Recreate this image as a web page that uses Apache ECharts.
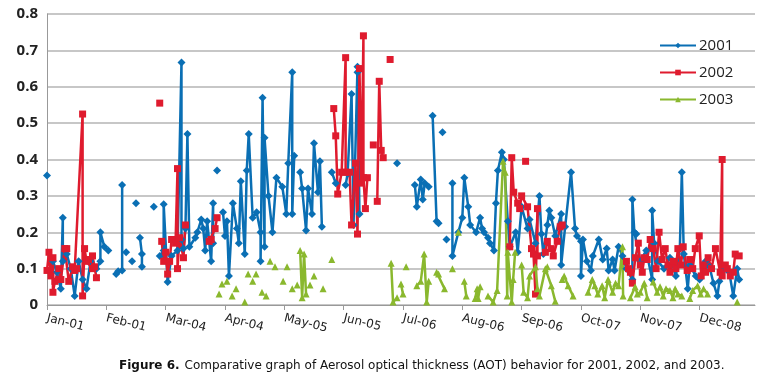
<!DOCTYPE html>
<html>
<head>
<meta charset="UTF-8">
<title>AOT 2001-2003</title>
<script src="https://cdn.jsdelivr.net/npm/echarts@6/dist/echarts.min.js"></script>
<style>
  html, body { margin: 0; padding: 0; background: #fff; }
  #main { width: 759px; height: 374px; }
</style>
</head>
<body>
<div id="main"></div>
<script>
// x = day index along the axis (30 days between month labels), null = gap in the line
var monthLabels = ['Jan-01', 'Feb-01', 'Mar-04', 'Apr-04', 'May-05', 'Jun-05', 'Jul-06', 'Aug-06', 'Sep-06', 'Oct-07', 'Nov-07', 'Dec-08'];
var seriesNames = ['2001', '2002', '2003'];

var pts2001 = [
  [0, .356], null,
  [3, .12], [5, .09], [7, .045], [8, .24], [8, .12], [10, .14], [12, .1], [14, .025], [16, .12], [18, .07], [20, .045], [22, .12], [25, .1], [27, .12], [27, .2], [29, .16], [31, .15], null,
  [35, .085], [36, .093], [38, .095], [38, .33], null,
  [40, .145], null, [43, .12], null, [45, .28], null,
  [47, .185], [48, .14], [48, .105], null,
  [54, .27], null,
  [57, .135], [59, .15], [59, .277], [61, .063], [63, .135], [66, .15], [68, .667], [68, .18], [69, .155], [70, .21], [71, .47], [72, .16], [75, .185], [76, .2], [78, .235], [79, .21], [80, .15], [81, .23], [83, .12], [84, .28], [84, .17], null,
  [86, .37], null,
  [89, .255], [90, .19], [91, .23], [92, .08], [94, .28], [96, .21], [97, .17], [98, .34], [100, .14], [101, .37], [102, .47], [104, .24], [106, .255], [108, .2], [108, .12], [109, .57], [110, .16], [110, .46], [112, .3], [114, .2], [116, .35], [119, .325], [121, .25], [122, .39], [124, .64], [124, .25], [125, .41], null,
  [128, .365], [129, .32], [131, .205], [132, .32], [134, .25], [135, .445], [137, .31], [138, .395], [139, .215], null,
  [144, .365], [146, .335], null,
  [151, .33], [152, .36], [154, .58], [155, .22], [157, .655], [157, .64], [158, .25], null,
  [177, .39], null,
  [186, .33], [187, .27], [189, .345], [190, .29], [191, .335], [193, .325], null,
  [195, .52], [197, .23], [198, .225], null,
  [200, .475], null,
  [202, .18], null,
  [205, .335], [205, .135], [208, .2], [210, .24], [211, .35], [213, .27], [214, .22], [217, .2], [219, .24], [220, .21], [221, .2], [223, .185], [224, .17], [226, .15], [227, .28], [228, .37], [230, .42], [231, .4], [233, .23], [234, .16], [237, .2], [238, .145], [240, .27], [243, .21], [244, .235], [247, .17], [249, .3], [250, .195], [251, .14], [253, .22], [254, .26], [255, .24], [257, .19], [260, .25], [260, .11], [262, .215], [265, .365], [267, .21], [268, .19], [270, .175], [270, .08], [271, .18], [273, .12], [275, .095], [276, .135], [279, .18], [281, .125], [283, .155], [284, .095], [286, .125], [287, .095], [289, .16], [291, .135], [293, .1], [296, .07], [296, .29], [297, .2], [298, .195], [300, .12], [303, .15], [306, .07], [306, .26], [307, .17], [309, .12], [312, .1], [315, .13], [318, .08], [320, .155], [321, .365], [322, .14], [324, .045], [325, .11], [328, .08], [330, .07], [333, .12], [335, .105], [337, .06], [339, .025], [340, .065], [343, .1], [345, .09], [347, .025], [349, .1], [350, .07]
];

var pts2002 = [
  [0, .095], [1, .145], [2, .08], [3, .13], [3, .035], [4, .065], [6, .1], [7, .07], [9, .155], [10, .155], [11, .065], [13, .105], [14, .095], [15, .1], [18, .525], [18, .025], [19, .155], [20, .12], [21, .125], [23, .1], [23, .135], [24, .105], [25, .075], null,
  [57, .555], null,
  [58, .175], [59, .12], [60, .145], [61, .085], [62, .12], [63, .18], [65, .17], [66, .375], [66, .1], [67, .185], [69, .13], [70, .22], null,
  [82, .175], [83, .18], [85, .21], [86, .24], null,
  [145, .54], [146, .465], [147, .305], [149, .365], [151, .68], [151, .365], [153, .365], [154, .22], [156, .39], [157, .195], [158, .65], [159, .335], [160, .74], [160, .35], [161, .265], [162, .35], null,
  [165, .44], null,
  [167, .285], [168, .615], [169, .425], [170, .405], null,
  [173.5, .675], null,
  [234, .16], [235, .405], [236, .31], [238, .28], [239, .265], [240, .3], [243, .27], [245, .155], [246, .14], [247, .03], [248, .265], [248, .135], [252, .145], [253, .175], [255, .155], [256, .135], [258, .175], [259.5, .215], [260.5, .22], null,
  [242, .395], null,
  [293, .12], [294, .1], [295, .09], [296, .06], [297.5, .13], [299, .17], [300, .11], [301, .09], [302, .13], [303.5, .125], [305, .18], [306.5, .155], [308, .1], [309.5, .2], [311, .125], [312.6, .155], [314, .11], [315, .09], [316.6, .12], [318, .1], [319, .155], [320.5, .11], [321.7, .16], [323.7, .095], [325, .125], [326.5, .1], [327.8, .155], [329.8, .19], [330.8, .08], [331.8, .11], [333, .09], [334.3, .13], [336, .1], [338, .155], [340.4, .09], [341.4, .4], [341.4, .08], [343, .11], [344, .1], [345.5, .08], [347, .09], [348, .14], [350, .135]
];

var pts2003 = [
  [87, .03], null, [88.5, .058], null, [91, .065], null, [93.6, .025], null, [95.6, .045], null, [100, .008], null,
  [101.7, .085], null, [104, .065], null, [105.7, .085], null, [108.7, .035], null, [110.8, .025], null,
  [112.8, .12], null, [115.3, .105], null, [119.4, .065], null, [121.4, .105], null, [124, .045], null, [126.5, .055], null,
  [128, .15], [129, .02], [130, .14], [131, .03], null,
  [133, .055], null, [135, .08], null, [139.6, .045], null, [144, .125], null,
  [174, .115], [175, .008], [177, .02], null,
  [179, .058], [180, .03], null,
  [181.6, .105], null,
  [187, .053], [189, .065], [190.7, .14], [192, .008], [193, .065], null,
  [197, .09], [198, .085], [201, .045], null,
  [205, .1], null,
  [208, .2], null,
  [211, .065], [212, .025], null,
  [216.5, .018], [217.5, .045], [218, .018], [219, .05], null,
  [223, .025], [225.6, .008], [227.6, .04], [230.6, .395], [231.7, .365], [232.7, .025], [233, .145], [235, .008], [235.7, .07], [236.7, .145], null,
  [240, .11], [241, .035], [243, .02], [244, .08], [247, .105], [248, .045], [249, .025], [252, .1], [253, .105], [255, .053], [257, .01], null,
  [260.5, .07], [261.5, .08], [263.5, .053], [266, .025], null,
  [273.6, .035], [275.7, .07], [277, .053], [278.5, .03], [280.7, .053], [282, .02], [283.7, .07], [286, .035], [287.5, .06], [289, .053], [291, .16], [291.3, .025], null,
  [295, .02], [297.4, .05], [298.5, .03], [300, .035], [302, .06], [303.5, .02], null,
  [306.5, .063], [308.5, .035], [310, .05], [311.6, .025], [313, .045], [315, .04], [316.5, .02], [317.6, .045], [319, .03], [321, .025], null,
  [325, .018], [326.5, .04], [329, .053], [330.5, .03], [332, .045], [334, .03], null,
  [349, .008]
];

// gaps become '-' so the line breaks there
function toData(pts) {
  return pts.map(function (p) { return p === null ? ['-', '-'] : p; });
}

var chart = echarts.init(document.getElementById('main'));

function lineSeries(name, pts, color, symbol, size) {
  return {
    name: name,
    type: 'line',
    data: toData(pts),
    connectNulls: false,
    symbol: symbol,
    symbolSize: size,
    showAllSymbol: true,
    color: color,
    lineStyle: { width: 2.5, color: color },
    itemStyle: { color: color },
    emphasis: { disabled: true }
  };
}

chart.setOption({
  animation: false,
  backgroundColor: '#fff',
  title: {
    text: '{b|Figure 6.} {n|Comparative graph of Aerosol optical thickness (AOT) behavior for 2001, 2002, and 2003.}',
    left: 114,
    top: 352,
    textStyle: {
      fontWeight: 'normal',
      rich: {
        b: { fontFamily: 'DejaVu Sans', fontSize: 12, fontWeight: 'bold', color: '#111' },
        n: { fontFamily: 'DejaVu Sans', fontSize: 12, fontWeight: 'normal', color: '#111' }
      }
    }
  },
  legend: {
    orient: 'vertical',
    left: 654,
    top: 33,
    itemWidth: 36,
    itemHeight: 7,
    itemGap: 12,
    data: seriesNames,
    textStyle: { fontFamily: 'Open Sans', fontSize: 15, color: '#222', padding: [0, 0, 0, -2] }
  },
  grid: { left: 47, right: 4, top: 14, bottom: 69, containLabel: false },
  xAxis: {
    type: 'value',
    min: 0,
    max: 358,
    interval: 30,
    axisLine: { show: true, lineStyle: { color: '#999', width: 1 } },
    axisTick: { show: true, length: 5, lineStyle: { color: '#999' } },
    splitLine: { show: false },
    axisLabel: {
      rotate: -14,
      margin: 13,
      showMaxLabel: false,
      fontFamily: 'DejaVu Sans',
      fontSize: 12,
      color: '#222',
      formatter: function (v) {
        var i = Math.round(v / 30);
        return (v % 30 === 0 && monthLabels[i]) ? monthLabels[i] : '';
      }
    }
  },
  yAxis: {
    type: 'value',
    min: 0,
    max: 0.8,
    interval: 0.1,
    axisLine: { show: true, lineStyle: { color: '#999', width: 1 } },
    axisTick: { show: false },
    splitLine: { show: true, lineStyle: { color: '#b5b5b5', width: 1.5 } },
    axisLabel: {
      margin: 9,
      fontFamily: 'Open Sans',
      fontWeight: 'bold',
      fontSize: 15,
      color: '#222',
      formatter: function (v) { return v === 0 ? '0' : v.toFixed(1); }
    }
  },
  series: [
    lineSeries(seriesNames[0], pts2001, '#0a6fb4', 'diamond', 8),
    lineSeries(seriesNames[1], pts2002, '#df1b2e', 'rect', 7),
    lineSeries(seriesNames[2], pts2003, '#8ab82e', 'triangle', 7)
  ]
});
</script>
</body>
</html>
